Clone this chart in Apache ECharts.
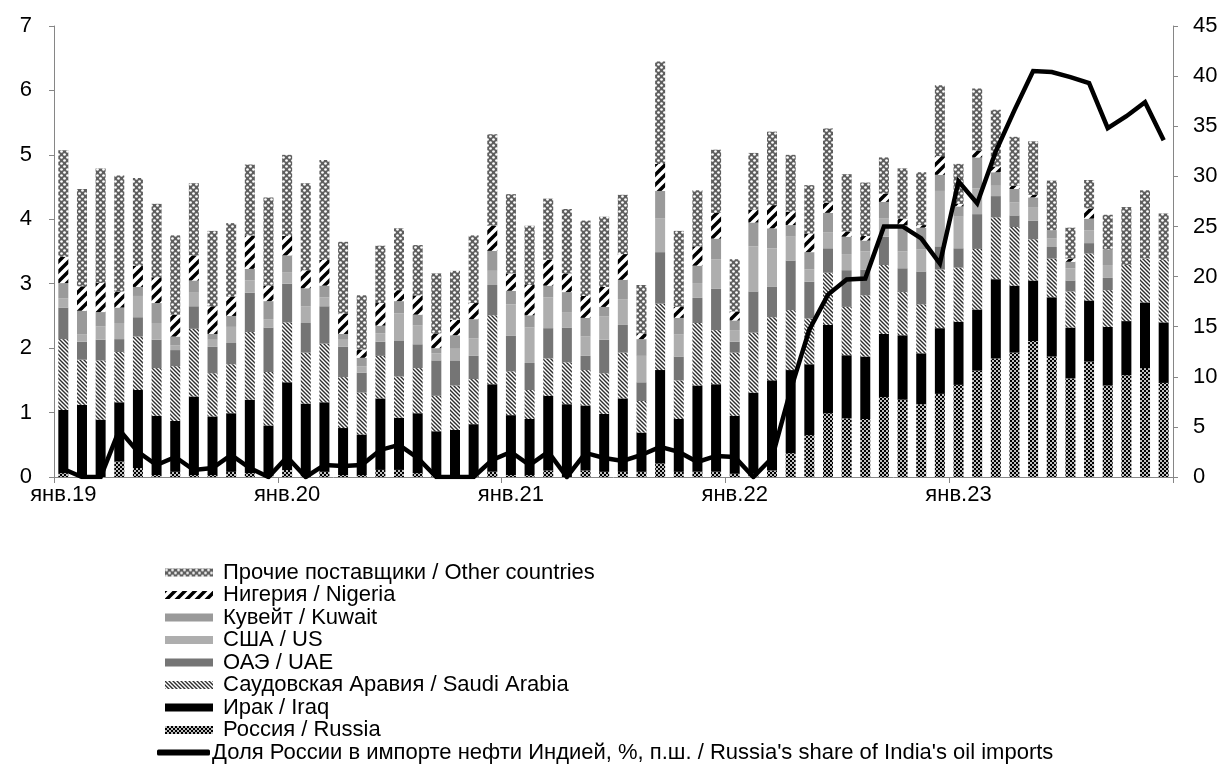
<!DOCTYPE html>
<html>
<head>
<meta charset="utf-8">
<script src="https://cdn.jsdelivr.net/npm/echarts@6/dist/echarts.min.js"></script>
<style>
html,body{margin:0;padding:0;background:#fff;}
#chart{width:1224px;height:783px;}
</style>
</head>
<body>
<div id="chart"></div>
<script>
// ---- DATA ----
const monthNames = ['янв','фев','мар','апр','май','июн','июл','авг','сен','окт','ноя','дек'];
const years = ['19','20','21','22','23'];
const categories = [];
years.forEach(y => monthNames.forEach(m => categories.push(m + '.' + y)));

const russia = [0.06,0,0,0.24,0.14,0.03,0.08,0.03,0.03,0.08,0.06,0.03,
  0.11,0.03,0.08,0.03,0.03,0.11,0.11,0.06,0.03,0.03,0.03,0.08,
  0.03,0.03,0.10,0,0.10,0.08,0.08,0.08,0.21,0.08,0.08,0.08,
  0.05,0.05,0.10,0.37,0.65,0.99,0.91,0.90,1.24,1.20,1.13,1.29,
  1.43,1.65,1.84,1.93,2.11,1.87,1.53,1.79,1.42,1.58,1.69,1.46];
const iraq = [0.98,1.12,0.89,0.92,1.21,0.92,0.79,1.22,0.91,0.91,1.14,0.77,
  1.36,1.11,1.08,0.73,0.63,1.11,0.81,0.93,0.68,0.70,0.79,1.36,
  0.93,0.87,1.16,1.13,1.01,0.90,1.14,0.61,1.45,0.82,1.34,1.36,
  0.90,1.26,1.40,1.29,1.10,1.37,0.98,0.97,0.98,1.00,0.79,1.02,
  0.98,0.95,1.23,1.04,0.94,0.92,0.79,0.95,0.91,0.84,1.02,0.94];
const saudi = [1.10,0.70,0.92,0.78,0.83,0.74,0.85,1.05,0.67,0.76,1.05,0.83,
  0.93,0.79,0.91,0.79,0.65,0.66,0.64,0.70,0.55,0.69,0.70,1.07,
  0.68,0.45,0.58,0.65,0.55,0.63,0.71,0.49,1.03,0.60,0.97,0.84,
  0.98,0.93,0.98,0.93,0.71,0.81,0.75,0.95,1.07,0.67,0.76,0.91,
  0.84,0.94,0.96,0.91,0.64,0.60,0.56,0.73,0.57,0.87,0.68,0.97];
const uae = [0.49,0.28,0.32,0.20,0.30,0.44,0.25,0.35,0.41,0.33,0.61,0.69,
  0.60,0.46,0.58,0.47,0.31,0.22,0.56,0.37,0.55,0.39,0.36,0.47,
  0.55,0.42,0.47,0.54,0.22,0.52,0.43,0.29,0.80,0.37,0.39,0.64,
  0.17,0.64,0.47,0.77,0.57,0.38,0.57,0.40,0.44,0.37,0.51,0.36,
  0.30,0.54,0.33,0.18,0.29,0.18,0.17,0.16,0.19,0,0,0];
const us = [0.14,0.11,0.21,0.25,0.33,0.26,0.07,0.21,0.11,0.25,0.19,0.13,
  0.18,0.26,0.14,0.11,0.10,0.13,0.42,0.29,0.11,0.18,0.27,0.22,
  0.49,0.55,0.48,0.24,0.30,0.36,0.40,0.41,0.52,0.34,0.23,0.46,
  0.18,0.70,0.60,0.37,0.19,0.25,0.25,0.28,0.28,0.26,0.34,0.86,
  0.49,0.40,0.16,0.20,0.21,0.13,0.19,0.20,0.20,0,0,0];
const kuwait = [0.24,0.37,0.22,0.24,0.14,0.31,0.14,0.19,0.09,0.17,0.18,0.28,
  0.26,0.28,0.18,0.09,0.13,0.12,0.19,0.17,0.08,0.21,0.30,0.31,
  0.21,0.19,0.18,0.31,0.29,0.15,0.30,0.26,0.43,0.26,0.27,0.32,
  0.15,0.37,0.31,0.18,0.27,0.30,0.27,0.17,0.26,0.41,0.34,0.25,
  0.16,0.48,0.21,0.21,0.15,0.13,0.10,0.18,0.24,0,0,0];
const nigeria = [0.41,0.38,0.45,0.25,0.33,0.40,0.34,0.39,0.43,0.30,0.52,0.24,
  0.30,0.28,0.40,0.32,0.13,0.35,0.17,0.30,0.23,0.24,0.25,0.39,
  0.27,0.47,0.40,0.29,0.34,0.31,0.40,0.09,0.42,0.17,0.30,0.40,
  0.14,0.20,0.36,0.21,0.29,0.16,0.08,0.07,0.13,0.10,0.04,0.29,
  0.04,0.11,0.09,0.05,0.04,0,0.05,0.16,0,0,0,0];
const others = [1.65,1.51,1.78,1.80,1.36,1.14,1.23,1.12,1.17,1.14,1.10,1.37,
  1.26,1.35,1.55,1.11,0.84,0.89,0.96,0.78,0.93,0.76,1.05,1.42,
  1.23,0.92,0.95,1.00,1.17,1.09,0.92,0.75,1.59,1.18,0.87,0.98,
  0.81,0.88,1.14,0.88,0.75,1.15,0.89,0.83,0.56,0.78,0.82,1.10,
  0.62,0.96,0.88,0.76,0.83,0.77,0.48,0.44,0.54,0.90,1.06,0.72];
const russiaShare = [0.8,0,0,4.7,2.5,1.2,2.0,0.7,0.9,2.2,0.9,0,
  2.0,0,1.2,1.1,1.2,2.7,3.2,1.9,0,0,0,1.7,
  2.5,1.2,2.5,0,2.4,1.9,1.6,2.2,3.0,2.5,1.5,2.1,
  2.0,0,1.9,8.7,14.7,18.2,19.7,19.8,25.0,25.0,23.8,21.3,
  29.5,27.3,32.5,36.6,40.5,40.4,39.9,39.3,34.8,36.0,37.4,33.6];

const names = {
  others: 'Прочие поставщики / Other countries',
  nigeria: 'Нигерия / Nigeria',
  kuwait: 'Кувейт / Kuwait',
  us: 'США / US',
  uae: 'ОАЭ / UAE',
  saudi: 'Саудовская Аравия / Saudi Arabia',
  iraq: 'Ирак / Iraq',
  russia: 'Россия / Russia',
  share: "Доля России в импорте нефти Индией, %, п.ш. / Russia's share of India's oil imports"
};
const leftTicks = [0,1,2,3,4,5,6,7];
const rightTicks = [0,5,10,15,20,25,30,35,40,45];

// ---- PATTERNS ----
function tile(w, h, draw) {
  const c = document.createElement('canvas');
  c.width = w; c.height = h;
  const ctx = c.getContext('2d');
  draw(ctx, w, h);
  return { image: c, repeat: 'repeat' };
}
const patOthers = tile(6, 6, (ctx, w, h) => {
  ctx.fillStyle = '#5e5e5e'; ctx.fillRect(0, 0, w, h);
  ctx.fillStyle = '#ffffff';
  ctx.beginPath(); ctx.arc(1.5, 1.5, 1.35, 0, Math.PI * 2); ctx.fill();
  ctx.beginPath(); ctx.arc(4.5, 4.5, 1.35, 0, Math.PI * 2); ctx.fill();
});
const patRussia = tile(4, 4, (ctx, w, h) => {
  ctx.fillStyle = '#000'; ctx.fillRect(0, 0, w, h);
  ctx.fillStyle = '#fff';
  ctx.beginPath(); ctx.arc(1, 1, 1.0, 0, Math.PI * 2); ctx.fill();
  ctx.beginPath(); ctx.arc(3, 3, 1.0, 0, Math.PI * 2); ctx.fill();
});
const patSaudi = tile(4, 4, (ctx, w, h) => {
  ctx.fillStyle = '#fff'; ctx.fillRect(0, 0, w, h);
  ctx.strokeStyle = '#2e2e2e'; ctx.lineWidth = 1.4;
  ctx.beginPath();
  ctx.moveTo(-1, -1); ctx.lineTo(5, 5);
  ctx.moveTo(-1, 3); ctx.lineTo(1, 5);
  ctx.moveTo(3, -1); ctx.lineTo(5, 1);
  ctx.stroke();
});
const patNigeria = tile(10, 10, (ctx, w, h) => {
  ctx.fillStyle = '#fff'; ctx.fillRect(0, 0, w, h);
  ctx.strokeStyle = '#000'; ctx.lineWidth = 3.5;
  ctx.beginPath();
  ctx.moveTo(-5, 5); ctx.lineTo(5, -5);
  ctx.moveTo(-1, 11); ctx.lineTo(11, -1);
  ctx.moveTo(5, 15); ctx.lineTo(15, 5);
  ctx.stroke();
});

const font = "'Liberation Sans', Arial, sans-serif";
const FS = 22;
const chart = echarts.init(document.getElementById('chart'), null, { renderer: 'canvas' });

function bar(name, data, color) {
  return {
    name, type: 'bar', stack: 'total', data, barWidth: 10,
    itemStyle: { color }, emphasis: { disabled: true }, animation: false
  };
}

const barLegendNames = [names.others, names.nigeria, names.kuwait, names.us, names.uae, names.saudi, names.iraq, names.russia];

const option = {
  animation: false,
  backgroundColor: '#fff',
  textStyle: { fontFamily: font, color: '#000' },
  grid: { left: 54, right: 51, top: 26, bottom: 306, containLabel: false },
  legend: [{
    orient: 'vertical', left: 165, top: 561.5, padding: 0,
    itemWidth: 48, itemHeight: 8, itemGap: 0.5,
    textStyle: { fontFamily: font, fontSize: FS, color: '#000', lineHeight: 22, padding: [0, 0, 0, 5] },
    data: barLegendNames.map(n => ({ name: n, icon: 'rect' })),
    selectedMode: false
  }, {
    orient: 'vertical', left: 157, top: 741.5, padding: 0,
    itemWidth: 53, itemHeight: 6,
    textStyle: { fontFamily: font, fontSize: FS, color: '#000', lineHeight: 22, padding: [0, 0, 0, -3] },
    data: [{ name: names.share, icon: 'roundRect' }],
    selectedMode: false
  }],
  xAxis: {
    type: 'category', data: categories, boundaryGap: true,
    axisLine: { lineStyle: { color: '#868686', width: 1 } },
    axisTick: { show: true, interval: 11, length: 6, lineStyle: { color: '#868686' } },
    axisLabel: { interval: 11, fontSize: FS, color: '#000', fontFamily: font, margin: 7 }
  },
  yAxis: [{
    type: 'value', min: leftTicks[0], max: leftTicks[leftTicks.length - 1], interval: 1,
    splitLine: { show: false },
    axisLine: { show: true, lineStyle: { color: '#868686' } },
    axisTick: { show: true, length: 5, lineStyle: { color: '#868686' } },
    axisLabel: { fontSize: FS, color: '#000', fontFamily: font, margin: 22 }
  }, {
    type: 'value', min: rightTicks[0], max: rightTicks[rightTicks.length - 1], interval: 5,
    position: 'right',
    splitLine: { show: false },
    axisLine: { show: true, lineStyle: { color: '#868686' } },
    axisTick: { show: true, length: 5, lineStyle: { color: '#868686' } },
    axisLabel: { fontSize: FS, color: '#000', fontFamily: font, margin: 20 }
  }],
  series: [
    bar(names.russia, russia, patRussia),
    bar(names.iraq, iraq, '#000000'),
    bar(names.saudi, saudi, patSaudi),
    bar(names.uae, uae, '#757575'),
    bar(names.us, us, '#aeaeae'),
    bar(names.kuwait, kuwait, '#9a9a9a'),
    bar(names.nigeria, nigeria, patNigeria),
    bar(names.others, others, patOthers),
    {
      name: names.share, type: 'line', yAxisIndex: 1, data: russiaShare,
      symbol: 'none', showSymbol: false, z: 10,
      lineStyle: { color: '#000', width: 4.5, join: 'miter' },
      itemStyle: { color: '#000' },
      emphasis: { disabled: true }, animation: false
    }
  ]
};
chart.setOption(option);
</script>
</body>
</html>
